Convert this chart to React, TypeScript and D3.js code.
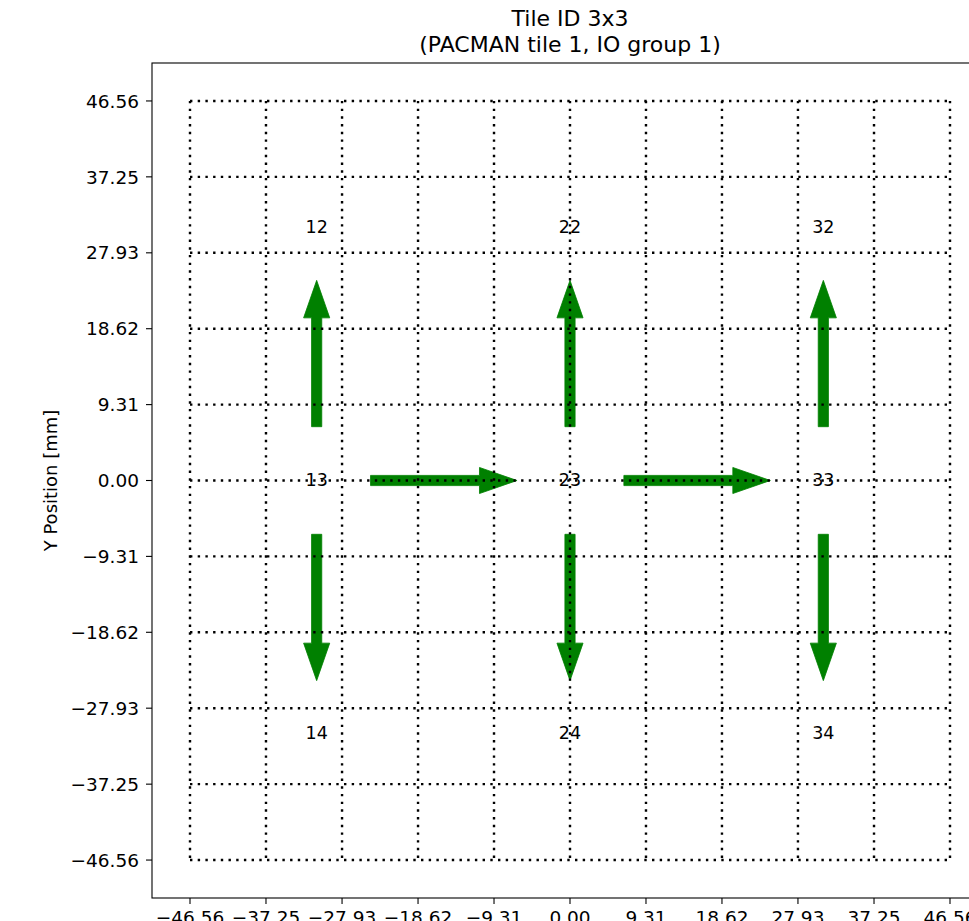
import React from "react";
import { scaleLinear } from "d3";

// chip layout of the tile (mm)
const chipIds = [12, 13, 14, 22, 23, 24, 32, 33, 34];
const chipX = [-31.04, -31.04, -31.04, 0, 0, 0, 31.04, 31.04, 31.04];
const chipY = [31.04, 0, -31.04, 31.04, 0, -31.04, 31.04, 0, -31.04];

// io arrows between chips
const arrowFrom = [13, 13, 13, 23, 23, 23, 33, 33];
const arrowTo = [12, 14, 23, 22, 24, 33, 32, 34];

// grid / tick positions
const tickValues = [-46.56, -37.25, -27.93, -18.62, -9.31, 0, 9.31, 18.62, 27.93, 37.25, 46.56];
const tickLabels = ["−46.56", "−37.25", "−27.93", "−18.62", "−9.31", "0.00", "9.31", "18.62", "27.93", "37.25", "46.56"];

const W = 969;
const H = 921;
const lim = 51.216;

const x = scaleLinear().domain([-lim, lim]).range([152, 988]);
const y = scaleLinear().domain([-lim, lim]).range([898, 63]);

const font = "DejaVu Sans, sans-serif";

function arrowPath(x0: number, y0: number, x1: number, y1: number) {
  // arrow drawn in data units, then mapped
  const dx = x1 - x0;
  const dy = y1 - y0;
  const len = Math.hypot(dx, dy);
  const ux = dx / len;
  const uy = dy / len;
  const px = -uy;
  const py = ux;
  const tail = 6.6;
  const tip = 24.55;
  const headLen = 4.6;
  const shaft = 1.25 / 2;
  const head = 3.2 / 2;
  const base = tip - headLen;
  const pt = (d: number, o: number) =>
    [x(x0 + ux * d + px * o), y(y0 + uy * d + py * o)].join(",");
  return (
    "M" +
    [
      pt(tail, shaft),
      pt(base, shaft),
      pt(base, head),
      pt(tip, 0),
      pt(base, -head),
      pt(base, -shaft),
      pt(tail, -shaft),
    ].join("L") +
    "Z"
  );
}

export default function App() {
  const pos = (id: number) => {
    const i = chipIds.indexOf(id);
    return [chipX[i], chipY[i]];
  };
  const lo = tickValues[0];
  const hi = tickValues[tickValues.length - 1];

  return (
    <div style={{ position: "absolute", left: 0, top: 0 }}>
      <svg width={W} height={H} style={{ display: "block", background: "#fff" }} fontFamily={font}>
        {/* title */}
        <text x={570} y={26} textAnchor="middle" fontSize={22}>
          Tile ID 3x3
        </text>
        <text x={570} y={52} textAnchor="middle" fontSize={22}>
          (PACMAN tile 1, IO group 1)
        </text>

        {/* chip labels */}
        {chipIds.map((id, i) => (
          <text
            key={id}
            x={x(chipX[i])}
            y={y(chipY[i])}
            dy="0.3em"
            textAnchor="middle"
            fontSize={17.5}
            fill="#000"
          >
            {id}
          </text>
        ))}

        {/* arrows */}
        {arrowFrom.map((f, i) => {
          const [x0, y0] = pos(f);
          const [x1, y1] = pos(arrowTo[i]);
          return (
            <path
              key={i}
              d={arrowPath(x0, y0, x1, y1)}
              fill="#008000"
              stroke="#008000"
              strokeWidth={0.8}
            />
          );
        })}

        {/* dotted tile grid */}
        <g stroke="#000" strokeWidth={2.4} strokeDasharray="2.4 5.3" fill="none">
          {tickValues.map((v, i) => (
            <line key={"v" + i} x1={x(v)} x2={x(v)} y1={y(hi)} y2={y(lo)} />
          ))}
          {tickValues.map((v, i) => (
            <line key={"h" + i} x1={x(lo)} x2={x(hi)} y1={y(v)} y2={y(v)} />
          ))}
        </g>

        {/* axes frame */}
        <rect
          x={x(-lim)}
          y={y(lim)}
          width={x(lim) - x(-lim)}
          height={y(-lim) - y(lim)}
          fill="none"
          stroke="#000"
          strokeWidth={1.1}
        />

        {/* y ticks */}
        {tickValues.map((v, i) => (
          <g key={"yt" + i}>
            <line x1={x(-lim) - 6} x2={x(-lim)} y1={y(v)} y2={y(v)} stroke="#000" strokeWidth={1.1} />
            <text x={x(-lim) - 13} y={y(v)} dy="0.36em" textAnchor="end" fontSize={18.5}>
              {tickLabels[i]}
            </text>
          </g>
        ))}

        {/* x ticks */}
        {tickValues.map((v, i) => (
          <g key={"xt" + i}>
            <line x1={x(v)} x2={x(v)} y1={y(-lim)} y2={y(-lim) + 6} stroke="#000" strokeWidth={1.1} />
            <text x={x(v)} y={y(-lim) + 12} dy="0.76em" textAnchor="middle" fontSize={18.5}>
              {tickLabels[i]}
            </text>
          </g>
        ))}

        <text
          transform={`translate(57, ${(y(lim) + y(-lim)) / 2}) rotate(-90)`}
          textAnchor="middle"
          fontSize={18}
        >
          Y Position [mm]
        </text>
      </svg>
    </div>
  );
}
